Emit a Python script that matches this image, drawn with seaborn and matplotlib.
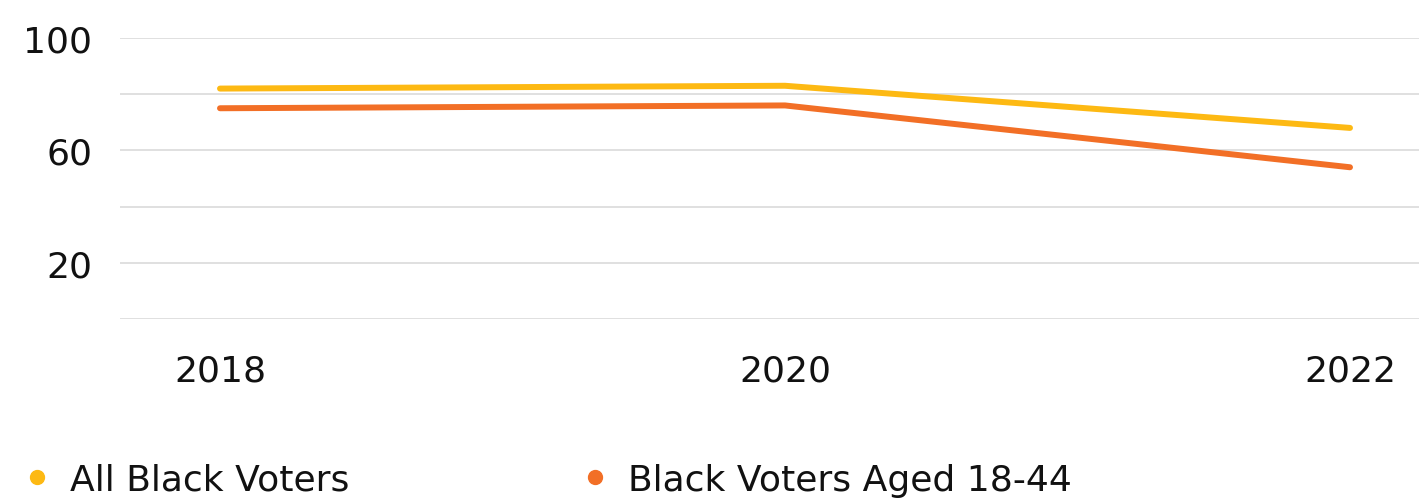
import numpy as np
import pandas as pd
import matplotlib.pyplot as plt
import seaborn as sns
from matplotlib.lines import Line2D

# data
years = [2018, 2020, 2022]
all_black = [82, 83, 68]
young_black = [75, 76, 54]
series_names = ["All Black Voters", "Black Voters Aged 18-44"]
colors = ["#FDB913", "#F26F26"]
y_ticks = [0, 20, 40, 60, 80, 100]
y_labels = ["", "20", "", "60", "", "100"]

df = pd.DataFrame({
    "Year": years * 2,
    "Share": all_black + young_black,
    "Group": [series_names[0]] * 3 + [series_names[1]] * 3,
})

sns.set_style("white")
plt.rcParams["font.family"] = ["DejaVu Sans"]

fig = plt.figure(figsize=(14.19, 5.02), dpi=100)
ax = fig.add_axes([120 / 1419, 1 - 320 / 502, 1 - 120 / 1419, 281 / 502])

sns.lineplot(data=df, x="Year", y="Share", hue="Group", palette=colors,
             linewidth=4.3, ax=ax, legend=False,
             solid_capstyle="round", solid_joinstyle="miter")

ax.set_ylim(0, 100)
ax.set_xlim(2018 - 100 / 282.5, 2022 + 69 / 282.5)
ax.set_yticks(y_ticks)
ax.set_yticklabels(y_labels)
ax.set_xticks(years)
ax.set_xticklabels([str(y) for y in years])
ax.grid(axis="y", color="#dddddd", linewidth=1.3)
ax.set_axisbelow(True)
for s in ax.spines.values():
    s.set_visible(False)
ax.tick_params(axis="both", length=0, labelsize=26, labelcolor="#111111")
ax.tick_params(axis="y", pad=20)
ax.tick_params(axis="x", pad=25)
ax.set_xlabel("")
ax.set_ylabel("")

# legend entries at the bottom
for name, c, xpos in zip(series_names, colors, [37, 595]):
    h = Line2D([], [], marker="o", linestyle="", color=c, markersize=10)
    fig.legend(handles=[h], labels=[name], loc="center left",
               bbox_to_anchor=(xpos / 1419, 1 - 481 / 502), frameon=False,
               handlelength=0, handletextpad=0.9, borderpad=0,
               borderaxespad=0, fontsize=26, labelcolor="#111111")

fig.savefig("out.png", dpi=100, facecolor="white")
